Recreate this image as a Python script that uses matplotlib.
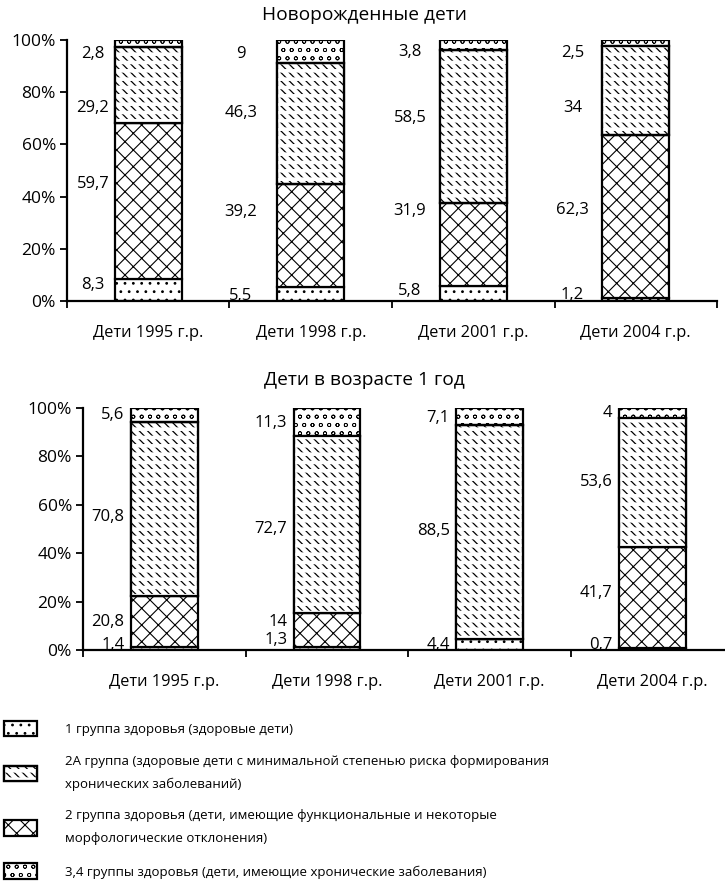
import numpy as np
import matplotlib
matplotlib.use("Agg")
import matplotlib.pyplot as plt
from matplotlib.patches import Patch

plt.rcParams['font.family'] = ['Open Sans', 'DejaVu Sans']
plt.rcParams['hatch.linewidth'] = 0.8

categories = ["Дети 1995 г.р.", "Дети 1998 г.р.", "Дети 2001 г.р.", "Дети 2004 г.р."]
group_names = [
    "1 группа здоровья (здоровые дети)",
    "2А группа (здоровые дети с минимальной степенью риска формирования\nхронических заболеваний)",
    "2 группа здоровья (дети, имеющие функциональные и некоторые\nморфологические отклонения)",
    "3,4 группы здоровья (дети, имеющие хронические заболевания)",
]

# новорожденные: 1 гр, 2 гр, 2А гр, 3-4 гр (снизу вверх)
newborn_g1 = [8.3, 5.5, 5.8, 1.2]
newborn_g2 = [59.7, 39.2, 31.9, 62.3]
newborn_g2a = [29.2, 46.3, 58.5, 34.0]
newborn_g34 = [2.8, 9.0, 3.8, 2.5]

# дети 1 год
year1_g1 = [1.4, 1.3, 4.4, 0.7]
year1_g2 = [20.8, 14.0, 0.0, 41.7]
year1_g2a = [70.8, 72.7, 88.5, 53.6]
year1_g34 = [5.6, 11.3, 7.1, 4.0]

# где стоят подписи (в %, как на рисунке)
newborn_label_y = [[6, 45, 74, 94.6], [2, 34, 72, 94.6], [4, 34.5, 70, 95.4], [2.3, 35, 74, 95]]
year1_label_y = [[2, 11.6, 55, 97], [4, 11.6, 50, 94], [2, None, 49, 96], [2, 23.5, 69.5, 98]]
newborn_label_dx = [-0.34, -0.43, -0.39, -0.39]

hatches = ['..', 'xx', '\\\\\\\\', 'oo']


def gap_patch(p):
    # белые полосы поверх косой штриховки -> ряды коротких штрихов
    if hasattr(p, 'set_hatch_linewidth'):
        p.set_hatch_linewidth(2.6)


def hatch_lw(p, lw):
    if hasattr(p, 'set_hatch_linewidth'):
        p.set_hatch_linewidth(lw)


def fmt(v):
    if v == int(v):
        return str(int(v))
    return ("%.1f" % v).replace(".", ",")


def draw_chart(ax, series, label_y, label_mode):
    data = np.array(series, dtype=float)
    pct = data / data.sum(axis=0) * 100
    x = np.arange(len(categories))
    w = 0.41
    bottom = np.zeros(len(categories))
    for k in range(4):
        bars = ax.bar(x, pct[k], w, bottom=bottom, color='white', edgecolor='black',
                      hatch=hatches[k], linewidth=1.6, zorder=2)
        if k == 3:
            for p in bars:
                hatch_lw(p, 0.55)
        if k == 2:
            for p in bars:
                hatch_lw(p, 0.9)
            gaps = ax.bar(x, pct[k], w, bottom=bottom, fill=False, edgecolor='white',
                          hatch='--', linewidth=0, zorder=3)
            for p in gaps:
                gap_patch(p)
            ax.bar(x, pct[k], w, bottom=bottom, fill=False, edgecolor='black',
                   linewidth=1.6, zorder=4)
        bottom += pct[k]

    for i in range(len(categories)):
        for k in range(4):
            v = data[k][i]
            yy = label_y[i][k]
            if yy is None:
                continue
            if label_mode == 'center':
                ax.text(i + newborn_label_dx[i], yy, fmt(v), ha='center', va='center',
                        fontsize=12)
            else:
                ax.text(i - w / 2 - 0.04, yy, fmt(v), ha='right', va='center', fontsize=12)

    ax.set_xlim(-0.5, 3.5)
    ax.set_ylim(0, 100)
    ax.set_yticks([0, 20, 40, 60, 80, 100])
    ax.set_yticklabels(["0%", "20%", "40%", "60%", "80%", "100%"], fontsize=12.5)
    ax.set_xticks([-0.5, 0.5, 1.5, 2.5, 3.5])
    ax.set_xticklabels([])
    ax.set_xticks(x, minor=True)
    ax.set_xticklabels(categories, minor=True, fontsize=11.8)
    ax.tick_params(axis='x', which='minor', length=0, pad=17)
    ax.tick_params(axis='x', which='major', length=5, width=1.3, direction='out')
    ax.tick_params(axis='y', length=5, width=1.3, direction='out', pad=3)
    for s in ['top', 'right']:
        ax.spines[s].set_visible(False)
    for s in ['left', 'bottom']:
        ax.spines[s].set_linewidth(1.6)


fig = plt.figure(figsize=(7.25, 8.92), dpi=100)
ax1 = fig.add_axes([0.0924, 0.6626, 0.8966, 0.2926])
ax2 = fig.add_axes([0.1145, 0.2713, 0.8975, 0.2713])

draw_chart(ax1, [newborn_g1, newborn_g2, newborn_g2a, newborn_g34], newborn_label_y, 'center')
draw_chart(ax2, [year1_g1, year1_g2, year1_g2a, year1_g34], year1_label_y, 'right')
fig.text(0.503, 0.983, "Новорожденные дети", ha='center', va='center', fontsize=13.8)
fig.text(0.503, 0.574, "Дети в возрасте 1 год", ha='center', va='center', fontsize=13.8)

order = [0, 2, 1, 3]
handles = []
for k in order:
    base = Patch(facecolor='white', edgecolor='black', hatch=hatches[k], linewidth=1.6)
    if k == 2:
        gaps = Patch(fill=False, edgecolor='white', hatch='--', linewidth=0)
        edge = Patch(fill=False, edgecolor='black', linewidth=1.6)
        handles.append((base, gaps, edge))
    else:
        handles.append(base)
leg = fig.legend(handles, group_names, loc='upper left', bbox_to_anchor=(-0.002, 0.198),
                 frameon=False, fontsize=9.5, handlelength=2.5, handleheight=1.45,
                 handletextpad=2.1, labelspacing=1.4, borderaxespad=0)
for t in leg.get_texts():
    t.set_linespacing(1.95)
for p in leg.findobj(Patch):
    if p.get_hatch() == '--':
        gap_patch(p)
    elif p.get_hatch() == 'oo':
        hatch_lw(p, 0.55)
    elif p.get_hatch() == hatches[2]:
        hatch_lw(p, 0.9)

fig.savefig("out.png", dpi=100)
